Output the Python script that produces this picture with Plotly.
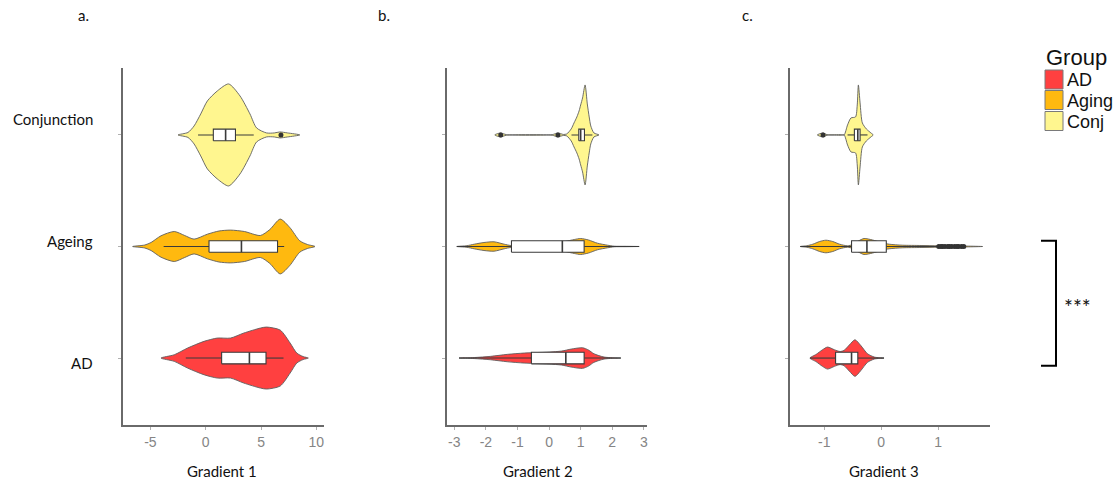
import plotly.graph_objects as go

# ---------------- data ----------------
GROUPS = ["AD", "Ageing", "Conjunction"]
GROUP_POS = [1, 2, 3]
LEGEND_LABELS = ["AD", "Aging", "Conj"]
COLORS = ["#FF4040", "#FFB90F", "#FFF68F"]

# Panel a (Gradient 1): violin density profiles (value grid, relative density)
A_AD_X = [-4.04, -2.84, -1.64, -0.15, 1.05, 2.24, 3.44, 4.94, 5.5, 6.73, 7.63, 8.23, 8.8, 9.27]
A_AD_D = [0, 3.3, 10, 16.7, 20, 20, 25, 30, 31, 28, 15, 5, 1.5, 0]
A_AG_X = [-6.6, -5.5, -4.94, -4.04, -2.84, -1.9, -1.05, 0.15, 1.2, 2.24, 3.5, 4.94, 5.8, 6.73, 7.6, 8.5, 9.2, 9.87]
A_AG_D = [0, 1.5, 4, 10.7, 15, 11, 7.4, 12.3, 15.5, 16.4, 15, 11, 17, 27.4, 19, 5.7, 2, 0]
A_CJ_X = [-2.5, -1.6, -1.05, -0.45, 0.15, 1.05, 2.07, 3.1, 4.0, 4.6, 5.5, 6.2, 6.7, 7.4, 8.5]
A_CJ_D = [0, 2.5, 9, 21, 34, 44, 51, 39, 21, 7, 2, 2, 3, 2, 0]
# box statistics  [AD, Ageing, Conjunction]
A_Q1 = [1.44, 0.3, 0.69]
A_MED = [3.95, 3.23, 1.8]
A_Q3 = [5.45, 6.49, 2.69]
A_LO = [-1.8, -3.8, -0.69]
A_HI = [7.03, 7.09, 4.34]
A_OUT_AD = []
A_OUT_AG = []
A_OUT_CJ = [6.8]

# Panel b (Gradient 2)
B_AD_X = [-2.85, -2.37, -1.85, -1.32, -0.79, -0.4, 0.0, 0.4, 0.7, 1.06, 1.25, 1.42, 1.74, 2.0, 2.27]
B_AD_D = [0, 0.5, 1.7, 3.7, 5, 5.5, 6, 7, 9, 10.3, 8, 4.3, 1, 0.3, 0]
B_AG_X = [-2.92, -2.6, -2.37, -2.06, -1.74, -1.42, -1.21, -0.8, 0.0, 0.5, 0.8, 1.0, 1.25, 1.53, 1.85, 2.06, 2.4, 2.85]
B_AG_D = [0, 0.8, 2.3, 4, 4.7, 2.3, 1, 1.5, 3, 5, 7, 8, 6.5, 3.3, 1.3, 0.3, 0.2, 0]
B_CJ_X = [-1.72, -1.53, -1.35, 0.1, 0.28, 0.45, 0.56, 0.7, 0.79, 0.88, 0.95, 1.0, 1.06, 1.14, 1.21, 1.27, 1.32, 1.42, 1.58]
B_CJ_D = [0, 2, 0.3, 0.3, 2, 0.5, 1, 6, 12, 18, 24, 30, 37, 50, 31, 18, 9, 2, 0]
B_Q1 = [-0.56, -1.19, 0.94]
B_MED = [0.53, 0.42, 1.0]
B_Q3 = [1.11, 1.11, 1.12]
B_LO = [-2.85, -2.92, 0.71]
B_HI = [2.27, 2.85, 1.37]
B_OUT_AD = []
B_OUT_AG = []
B_OUT_CJ = [-1.53, 0.28]

# Panel c (Gradient 3)
C_AD_X = [-1.25, -1.14, -1.03, -0.94, -0.82, -0.72, -0.65, -0.56, -0.46, -0.36, -0.24, -0.12, -0.03, 0.05]
C_AD_D = [0, 3.7, 8.3, 11, 8.3, 6.5, 7.7, 13, 18.3, 12.7, 4.3, 1, 0.3, 0]
C_AG_X = [-1.42, -1.3, -1.2, -1.08, -0.97, -0.85, -0.73, -0.59, -0.5, -0.4, -0.3, -0.15, 0.0, 0.14, 0.37, 0.7, 1.01, 1.3, 1.5, 1.78]
C_AG_D = [0, 0.8, 2.3, 5, 6.3, 5, 2.3, 0.7, 2, 5.5, 8, 6.5, 4, 2.3, 1.3, 1, 0.7, 0.6, 0.4, 0]
C_CJ_X = [-1.12, -1.02, -0.95, -0.7, -0.65, -0.59, -0.53, -0.45, -0.42, -0.4, -0.37, -0.33, -0.26, -0.18, -0.14]
C_CJ_D = [0, 2, 0.3, 0.3, 0, 10, 17, 18, 30, 50, 32, 12, 6, 2, 0]
C_Q1 = [-0.8, -0.52, -0.47]
C_MED = [-0.52, -0.25, -0.41]
C_Q3 = [-0.41, 0.09, -0.37]
C_LO = [-1.25, -1.42, -0.59]
C_HI = [0.05, 1.0, -0.24]
C_OUT_AD = []
C_OUT_AG = [1.01, 1.05, 1.08, 1.12, 1.17, 1.2, 1.24, 1.29, 1.33, 1.36, 1.41, 1.45]
C_OUT_CJ = [-1.02]

A_TICKS = [-5, 0, 5, 10]
B_TICKS = [-3, -2, -1, 0, 1, 2, 3]
C_TICKS = [-1, 0, 1]
A_RANGE = [-7.5, 10.69]
B_RANGE = [-3.24, 3.09]
C_RANGE = [-1.6, 1.91]
AXIS_TITLES = ["Gradient 1", "Gradient 2", "Gradient 3"]
PANEL_LABELS = ["a.", "b.", "c."]

# ---------------- figure ----------------
W, H = 1120, 482
def px(x):
    return x / W
def py(y):
    return 1 - y / H

Y_RANGE = [0.4, 3.6]
Y_DOM = [py(425), py(68)]
DENS_SCALE = (Y_RANGE[1] - Y_RANGE[0]) / (425 - 68)  # density units -> y units
BOX_HALF = 0.052

panels = [
    dict(xs=[A_AD_X, A_AG_X, A_CJ_X], ds=[A_AD_D, A_AG_D, A_CJ_D],
         q1=A_Q1, med=A_MED, q3=A_Q3, lo=A_LO, hi=A_HI,
         outs=[A_OUT_AD, A_OUT_AG, A_OUT_CJ], ticks=A_TICKS, rng=A_RANGE,
         dom=[px(122.7), px(324)]),
    dict(xs=[B_AD_X, B_AG_X, B_CJ_X], ds=[B_AD_D, B_AG_D, B_CJ_D],
         q1=B_Q1, med=B_MED, q3=B_Q3, lo=B_LO, hi=B_HI,
         outs=[B_OUT_AD, B_OUT_AG, B_OUT_CJ], ticks=B_TICKS, rng=B_RANGE,
         dom=[px(446.7), px(646.7)]),
    dict(xs=[C_AD_X, C_AG_X, C_CJ_X], ds=[C_AD_D, C_AG_D, C_CJ_D],
         q1=C_Q1, med=C_MED, q3=C_Q3, lo=C_LO, hi=C_HI,
         outs=[C_OUT_AD, C_OUT_AG, C_OUT_CJ], ticks=C_TICKS, rng=C_RANGE,
         dom=[px(790), px(990)]),
]

fig = go.Figure()
OUTLINE = "#5e5e5e"
BOXLINE = "#3a3a3a"

def line_trace(x, y, xa, ya, width=1.1, color=BOXLINE, fill=None, fillcolor=None, shape="linear"):
    return go.Scatter(x=x, y=y, mode="lines",
                      line=dict(color=color, width=width, shape=shape, smoothing=0.7),
                      fill=fill, fillcolor=fillcolor, xaxis=xa, yaxis=ya,
                      showlegend=False, hoverinfo="skip")

for i, p in enumerate(panels):
    xa = "x" if i == 0 else f"x{i+1}"
    ya = "y" if i == 0 else f"y{i+1}"
    for g in [2, 1, 0]:
        xs, ds, c = p["xs"][g], p["ds"][g], GROUP_POS[g]
        vx = list(xs) + list(reversed(xs[1:-1])) + [xs[0]]
        vy = [c + d * DENS_SCALE for d in ds] + [c - d * DENS_SCALE for d in reversed(ds[1:-1])] + [c]
        fig.add_trace(line_trace(vx, vy, xa, ya, width=0.9, color=OUTLINE,
                                 fill="toself", fillcolor=COLORS[g], shape="spline"))
    for g in [2, 1, 0]:
        c = GROUP_POS[g]
        q1, md, q3, lo, hi = p["q1"][g], p["med"][g], p["q3"][g], p["lo"][g], p["hi"][g]
        # whiskers
        fig.add_trace(line_trace([lo, q1, None, q3, hi], [c, c, None, c, c], xa, ya))
        # box
        fig.add_trace(line_trace([q1, q3, q3, q1, q1],
                                 [c - BOX_HALF, c - BOX_HALF, c + BOX_HALF, c + BOX_HALF, c - BOX_HALF],
                                 xa, ya, fill="toself", fillcolor="white"))
        # median
        fig.add_trace(line_trace([md, md], [c - BOX_HALF, c + BOX_HALF], xa, ya, width=1.6))
        if p["outs"][g]:
            fig.add_trace(go.Scatter(x=p["outs"][g], y=[c] * len(p["outs"][g]),
                                     mode="markers", marker=dict(color="#333333", size=5),
                                     xaxis=xa, yaxis=ya, showlegend=False, hoverinfo="skip"))
    axis_common = dict(showline=True, linecolor="#6a6a6a", linewidth=1.5,
                       showgrid=False, zeroline=False, ticks="outside", ticklen=3,
                       tickcolor="#b0b0b0", tickwidth=1)
    fig.update_layout({
        ("xaxis" if i == 0 else f"xaxis{i+1}"): dict(
            domain=p["dom"], anchor=ya, range=p["rng"], tickvals=p["ticks"],
            ticktext=[str(t) for t in p["ticks"]],
            tickfont=dict(family="Liberation Sans, Arial", size=14, color="#858585"),
            **axis_common),
        ("yaxis" if i == 0 else f"yaxis{i+1}"): dict(
            domain=Y_DOM, anchor=xa, range=Y_RANGE, tickvals=GROUP_POS,
            showticklabels=False, **axis_common),
    })

ann = []
LATO = "Lato, Open Sans, sans-serif"
# category labels (left of panel a)
for name, yc in zip(["AD", "Ageing", "Conjunction"], [362.7, 240.7, 119.3]):
    ann.append(dict(x=px(94.5), y=py(yc), xref="paper", yref="paper", text=name,
                    showarrow=False, xanchor="right", yanchor="middle",
                    font=dict(family=LATO, size=15, color="#111")))
for t, xc in zip(AXIS_TITLES, [221.7, 537.8, 883.7]):
    ann.append(dict(x=px(xc), y=py(471), xref="paper", yref="paper", text=t,
                    showarrow=False, xanchor="center", yanchor="middle",
                    font=dict(family=LATO, size=15, color="#111")))
for t, xc in zip(PANEL_LABELS, [83, 383.5, 747.7]):
    ann.append(dict(x=px(xc), y=py(15), xref="paper", yref="paper", text=t,
                    showarrow=False, xanchor="center", yanchor="middle",
                    font=dict(family=LATO, size=15, color="#111")))
# legend
ann.append(dict(x=px(1044), y=py(57), xref="paper", yref="paper", text="Group",
                showarrow=False, xanchor="left", yanchor="middle",
                font=dict(family="Liberation Sans, Arial", size=22, color="#111")))
shapes = []
key_tops = [70, 90.5, 111.5]
for g in range(3):
    y0 = key_tops[g]
    shapes.append(dict(type="rect", xref="paper", yref="paper", x0=px(1045), x1=px(1063),
                       y0=py(y0 + 19), y1=py(y0), fillcolor=COLORS[g],
                       line=dict(color="#7a7a7a", width=1)))
    ann.append(dict(x=px(1065), y=py(y0 + 10), xref="paper", yref="paper", text=LEGEND_LABELS[g],
                    showarrow=False, xanchor="left", yanchor="middle",
                    font=dict(family="Liberation Sans, Arial", size=18, color="#111")))
# significance bracket
shapes.append(dict(type="path", xref="paper", yref="paper",
                   path=f"M {px(1041)},{py(240.7)} L {px(1056)},{py(240.7)} L {px(1056)},{py(365.7)} L {px(1041)},{py(365.7)}",
                   line=dict(color="black", width=2)))
ann.append(dict(x=px(1077.5), y=py(306), xref="paper", yref="paper", text="***",
                showarrow=False, xanchor="center", yanchor="middle",
                font=dict(family=LATO, size=21, color="#111")))

fig.update_layout(width=W, height=H, margin=dict(l=0, r=0, t=0, b=0),
                  paper_bgcolor="white", plot_bgcolor="white", showlegend=False,
                  annotations=ann, shapes=shapes)

fig.write_html("out.html", config={"displayModeBar": False},
               post_script="document.body.style.margin='0px';document.body.style.padding='0px';")
